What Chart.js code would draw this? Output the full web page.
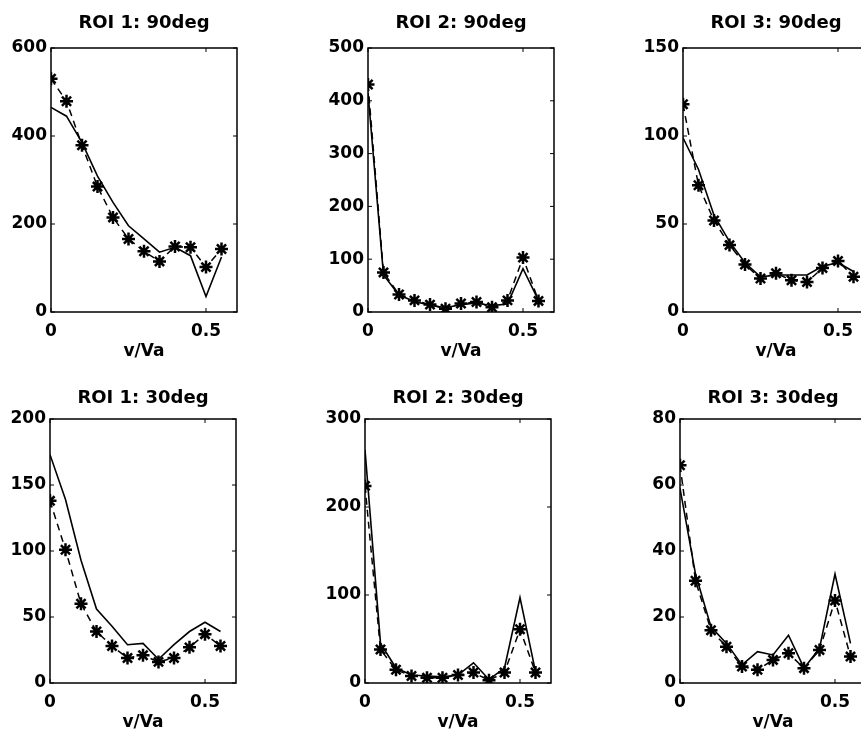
<!DOCTYPE html>
<html>
<head>
<meta charset="utf-8">
<script src="https://cdn.jsdelivr.net/npm/chart.js@4.4.1/dist/chart.umd.min.js"></script>
<style>
  html, body { margin: 0; padding: 0; background: #fff; }
  body { width: 861px; height: 736px; overflow: hidden; position: relative; }
  canvas { position: absolute; }
</style>
</head>
<body>
<canvas id="c1"></canvas>
<canvas id="c2"></canvas>
<canvas id="c3"></canvas>
<canvas id="c4"></canvas>
<canvas id="c5"></canvas>
<canvas id="c6"></canvas>
<script>
// x values: v/Va
const vRatio = [0, 0.05, 0.10, 0.15, 0.20, 0.25, 0.30, 0.35, 0.40, 0.45, 0.50, 0.55];
const xTickValues = [0, 0.5];

// ROI 1: 90deg
const roi1_90_fit  = [465, 445, 385, 309, 249, 196, 166, 136, 147, 128, 35, 125];
const roi1_90_meas = [530, 479, 379, 285, 215, 166, 138, 115, 149, 147, 102, 143];
// ROI 2: 90deg
const roi2_90_fit  = [415, 70, 32, 20, 13, 8, 14, 17, 12, 15, 82, 22];
const roi2_90_meas = [431, 75, 33, 22, 14, 6, 16, 19, 9, 22, 103, 21];
// ROI 3: 90deg
const roi3_90_fit  = [99, 81, 55, 40, 28, 20, 21, 21, 21, 26, 28, 23];
const roi3_90_meas = [118, 72, 52, 38, 27, 19, 22, 18, 17, 25, 29, 20];
// ROI 1: 30deg
const roi1_30_fit  = [173, 139, 93, 56, 43, 29, 30, 18, 29, 39, 46, 39];
const roi1_30_meas = [138, 101, 60, 39, 28, 19, 21, 16, 19, 27, 37, 28];
// ROI 2: 30deg
const roi2_30_fit  = [265, 45, 17, 9, 8, 7, 9, 23, 4, 17, 97, 13];
const roi2_30_meas = [224, 38, 15, 8, 6, 6, 9, 12, 3, 12, 61, 12];
// ROI 3: 30deg
const roi3_30_fit  = [59, 33, 17, 12, 5.5, 9.5, 8.5, 14.5, 4.5, 10.5, 33, 12];
const roi3_30_meas = [66, 31, 16, 11, 5, 4, 7, 9, 4.5, 10, 25, 8];

const FONT = "'DejaVu Sans', sans-serif";

// panel placement: canvas left/top, title offset, y range
const panels = [
    { id: 'c1', title: 'ROI 1: 90deg', fit: roi1_90_fit, meas: roi1_90_meas, yMax: 600, yStep: 200, left: -9,  top: 0,   tTop: 13 },
    { id: 'c2', title: 'ROI 2: 90deg', fit: roi2_90_fit, meas: roi2_90_meas, yMax: 500, yStep: 100, left: 308, top: 0,   tTop: 13 },
    { id: 'c3', title: 'ROI 3: 90deg', fit: roi3_90_fit, meas: roi3_90_meas, yMax: 150, yStep: 50,  left: 623, top: 0,   tTop: 13 },
    { id: 'c4', title: 'ROI 1: 30deg', fit: roi1_30_fit, meas: roi1_30_meas, yMax: 200, yStep: 50,  left: -10, top: 371, tTop: 16.5 },
    { id: 'c5', title: 'ROI 2: 30deg', fit: roi2_30_fit, meas: roi2_30_meas, yMax: 300, yStep: 100, left: 305, top: 371, tTop: 16.5 },
    { id: 'c6', title: 'ROI 3: 30deg', fit: roi3_30_fit, meas: roi3_30_meas, yMax: 80,  yStep: 20,  left: 620, top: 371, tTop: 16.5 }
];

// matlab style box with inward ticks
const boxPlugin = {
    id: 'matlabBox',
    afterDraw(chart) {
        const { ctx, chartArea: a, scales } = chart;
        ctx.save();
        ctx.strokeStyle = '#000';
        ctx.lineWidth = 1.5;
        ctx.strokeRect(a.left, a.top, a.right - a.left, a.bottom - a.top);
        ctx.lineWidth = 1;
        ctx.beginPath();
        scales.y.ticks.forEach(t => {
            const py = scales.y.getPixelForValue(t.value);
            ctx.moveTo(a.left, py); ctx.lineTo(a.left + 4, py);
            ctx.moveTo(a.right, py); ctx.lineTo(a.right - 4, py);
        });
        scales.x.ticks.forEach(t => {
            const px = scales.x.getPixelForValue(t.value);
            ctx.moveTo(px, a.bottom); ctx.lineTo(px, a.bottom - 4);
            ctx.moveTo(px, a.top); ctx.lineTo(px, a.top + 4);
        });
        ctx.stroke();
        ctx.restore();
    }
};

panels.forEach(p => {
    const canvas = document.getElementById(p.id);
    canvas.width = 306;
    canvas.height = 365;
    canvas.style.left = p.left + 'px';
    canvas.style.top = p.top + 'px';

    new Chart(canvas, {
        type: 'line',
        data: {
            datasets: [
                {
                    label: 'fit',
                    data: vRatio.map((v, i) => ({ x: v, y: p.fit[i] })),
                    borderColor: '#000',
                    borderWidth: 1.6,
                    pointRadius: 0,
                    tension: 0,
                    fill: false
                },
                {
                    label: 'measured',
                    data: vRatio.map((v, i) => ({ x: v, y: p.meas[i] })),
                    borderColor: '#000',
                    borderWidth: 1.5,
                    borderDash: [7, 5],
                    pointStyle: 'star',
                    pointRadius: 6.5,
                    pointBorderWidth: 2.5,
                    pointBorderColor: '#000',
                    pointBackgroundColor: '#000',
                    tension: 0,
                    fill: false
                }
            ]
        },
        options: {
            responsive: false,
            animation: false,
            devicePixelRatio: 1,
            layout: { padding: { left: 0, right: 60, top: 0, bottom: 0 } },
            plugins: {
                legend: { display: false },
                tooltip: { enabled: false },
                title: { display: false }
            },
            scales: {
                x: {
                    type: 'linear',
                    min: 0,
                    max: 0.6,
                    afterBuildTicks: s => { s.ticks = xTickValues.map(v => ({ value: v })); },
                    afterFit: s => { s.height = 53; },
                    grid: { display: false, drawTicks: false },
                    border: { display: false },
                    ticks: {
                        color: '#000',
                        padding: 9,
                        maxRotation: 0,
                        font: { family: FONT, size: 17, weight: 'bold' },
                        callback: v => String(v)
                    },
                    title: {
                        display: true,
                        text: 'v/Va',
                        color: '#000',
                        font: { family: FONT, size: 17, weight: 'bold' },
                        padding: { top: 0, bottom: 3.5 }
                    }
                },
                // top axis only carries the panel title, centred over the box
                xTop: {
                    type: 'linear',
                    position: 'top',
                    min: 0,
                    max: 0.6,
                    afterFit: s => { s.height = 48; },
                    grid: { display: false, drawTicks: false },
                    border: { display: false },
                    ticks: { display: false },
                    title: {
                        display: true,
                        text: p.title,
                        color: '#000',
                        font: { family: FONT, size: 18, weight: 'bold' },
                        padding: { top: p.tTop, bottom: 0 }
                    }
                },
                y: {
                    min: 0,
                    max: p.yMax,
                    afterFit: s => { s.width = 60; },
                    grid: { display: false, drawTicks: false },
                    border: { display: false },
                    ticks: {
                        color: '#000',
                        stepSize: p.yStep,
                        padding: 4,
                        font: { family: FONT, size: 17, weight: 'bold' },
                        callback: v => String(v)
                    }
                }
            }
        },
        plugins: [boxPlugin]
    });
});
</script>
</body>
</html>
